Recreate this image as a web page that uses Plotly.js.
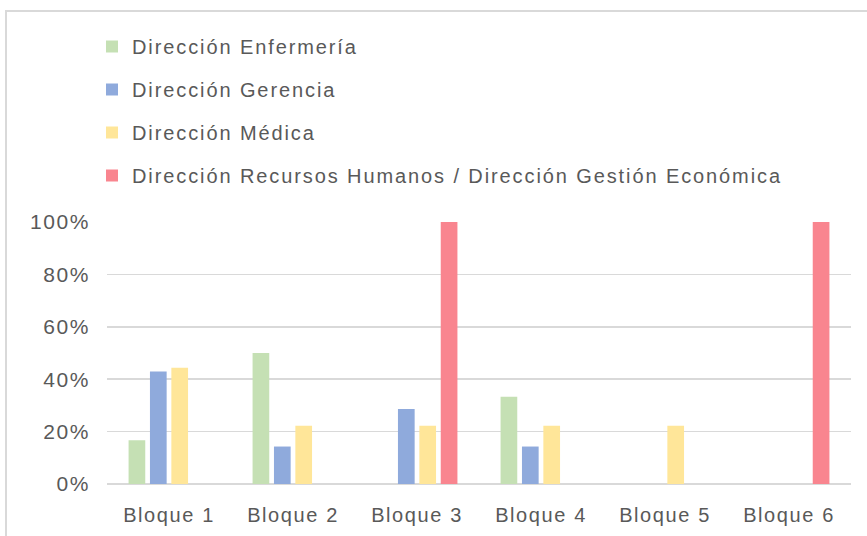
<!DOCTYPE html>
<html>
<head>
<meta charset="utf-8">
<script src="https://cdn.plot.ly/plotly-3.0.1.min.js"></script>
<style>
  html, body { margin: 0; padding: 0; background: #ffffff; }
  #wrap { position: relative; width: 867px; height: 536px; overflow: hidden; }
  #chart { position: absolute; left: 0; top: 0; width: 867px; height: 536px; }
  #frame { position: absolute; left: 5px; top: 10px; width: 900px; height: 600px;
           border-left: 2px solid #d9d9d9; border-top: 2px solid #d9d9d9; pointer-events: none; }
  svg text { letter-spacing: 1.6px; }
  svg text.legendtext { letter-spacing: 1.9px; }
</style>
</head>
<body>
<div id="wrap">
  <div id="chart"></div>
  <div id="frame"></div>
</div>
<script>
const categories = ["Bloque 1", "Bloque 2", "Bloque 3", "Bloque 4", "Bloque 5", "Bloque 6"];
const seriesNames = [
  "Dirección Enfermería",
  "Dirección Gerencia",
  "Dirección Médica",
  "Dirección Recursos Humanos / Dirección Gestión Económica"
];
const enfermeria = [0.167, 0.50, 0, 0.333, 0, 0];
const gerencia   = [0.429, 0.143, 0.286, 0.143, 0, 0];
const medica     = [0.444, 0.222, 0.222, 0.222, 0.222, 0];
const rrhh       = [0, 0, 1.00, 0, 0, 1.00];
const colors = ["#C5E0B4", "#8FAADC", "#FFE699", "#F9858F"];
const yTicks = [0, 0.2, 0.4, 0.6, 0.8, 1.0];
const yTickLabels = ["0%", "20%", "40%", "60%", "80%", "100%"];

const allSeries = [enfermeria, gerencia, medica, rrhh];
const traces = allSeries.map((vals, i) => ({
  type: "bar",
  name: seriesNames[i],
  x: categories,
  y: vals,
  marker: { color: colors[i] },
  legendgroup: "g" + i,
  hoverinfo: "skip"
}));

const font = { family: "Liberation Sans, Arial, sans-serif", size: 20, color: "#595959" };
const yFont = { family: "Liberation Sans, Arial, sans-serif", size: 21, color: "#595959" };

const layout = {
  width: 867,
  height: 536,
  margin: { l: 107, r: 16, t: 222, b: 52, autoexpand: false },
  paper_bgcolor: "#ffffff",
  plot_bgcolor: "#ffffff",
  font: font,
  barmode: "group",
  bargap: 0.31,
  bargroupgap: 0.22,
  showlegend: true,
  legend: {
    xref: "container",
    yref: "container",
    x: 92 / 867,
    xanchor: "left",
    y: 1 - 27 / 536,
    yanchor: "top",
    orientation: "v",
    tracegroupgap: 14,
    traceorder: "grouped",
    font: font,
    bgcolor: "rgba(0,0,0,0)"
  },
  xaxis: {
    type: "category",
    showgrid: false,
    showline: false,
    ticks: "",
    zeroline: false,
    tickangle: 0,
    tickfont: font,
    ticklabelstandoff: 17
  },
  yaxis: {
    range: [0, 1.0],
    tickvals: yTicks,
    ticktext: yTickLabels,
    showgrid: true,
    gridcolor: "#d9d9d9",
    gridwidth: 1.5,
    zeroline: true,
    zerolinecolor: "#d9d9d9",
    zerolinewidth: 1.5,
    showline: false,
    ticks: "",
    tickfont: yFont,
    ticklabelstandoff: 16,
    fixedrange: true
  }
};

Plotly.newPlot("chart", traces, layout, { displayModeBar: false, staticPlot: true });
</script>
</body>
</html>
